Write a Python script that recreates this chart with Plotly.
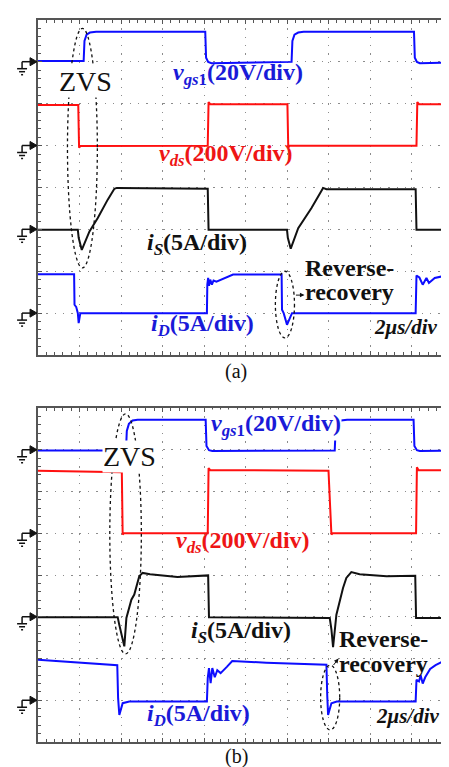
import plotly.graph_objects as go

# ---------------- data (x in divisions, 2 us/div ; y in screen divisions) ----------------
# Panel (a)
t_vgs_a = [0.00, 1.10, 1.12, 1.17, 1.25, 1.40, 4.03, 4.05, 4.10, 4.18, 6.11, 6.13, 6.18, 6.27, 6.40, 9.06, 9.08, 9.13, 9.20, 10.00]
v_vgs_a = [7.02, 7.02, 7.50, 7.65, 7.70, 7.72, 7.72, 7.10, 7.00, 6.97, 7.00, 7.50, 7.65, 7.70, 7.72, 7.72, 7.10, 7.00, 6.97, 6.98]

t_vds_a = [0.00, 0.97, 0.99, 1.02, 4.09, 4.11, 4.15, 6.01, 6.03, 6.06, 9.12, 9.14, 9.18, 10.00]
v_vds_a = [5.97, 5.97, 4.95, 4.99, 5.00, 6.04, 5.99, 5.99, 4.95, 5.00, 5.00, 6.04, 5.99, 5.99]

t_is_a = [0.00, 0.96, 0.98, 1.055, 1.24, 1.44, 1.68, 1.84, 1.90, 4.09, 4.11, 6.00, 6.02, 6.09, 6.27, 6.59, 6.87, 6.95, 9.10, 9.12, 10.00]
v_is_a = [2.99, 2.99, 2.80, 2.51, 2.95, 3.27, 3.71, 3.97, 3.99, 3.97, 2.99, 2.99, 2.80, 2.54, 3.03, 3.51, 3.99, 3.96, 3.96, 2.99, 2.99]

t_id_a = [0.00, 0.87, 0.88, 0.92, 0.96, 0.98, 1.02, 4.07, 4.08, 4.10, 4.12, 4.15, 4.19, 4.23, 4.30, 4.45, 4.70,
          5.87, 5.88, 5.92, 6.00, 6.12, 9.10, 9.12, 9.19, 9.27, 9.36, 9.42, 9.56, 9.75, 10.00]
v_id_a = [1.93, 1.93, 1.20, 1.15, 1.00, 0.76, 1.00, 1.00, 1.68, 1.84, 1.65, 1.80, 1.68, 1.78, 1.75, 1.82, 1.92,
          1.92, 1.08, 1.00, 0.72, 1.00, 1.00, 1.90, 1.85, 1.68, 1.84, 1.72, 1.84, 1.88, 1.93]

# Panel (b)
t_vgs_b = [0.00, 2.12, 2.14, 2.19, 2.28, 2.40, 4.04, 4.06, 4.12, 4.20, 7.15, 7.17, 7.22, 7.30, 7.45, 9.05, 9.07, 9.13, 9.20, 10.00]
v_vgs_b = [6.98, 6.98, 7.45, 7.62, 7.70, 7.72, 7.72, 7.09, 6.99, 6.97, 6.98, 7.45, 7.62, 7.70, 7.72, 7.72, 7.09, 6.99, 6.97, 6.98]

t_vds_b = [0.00, 2.02, 2.04, 2.07, 4.09, 4.11, 4.15, 7.00, 7.07, 7.10, 9.11, 9.13, 9.17, 10.00]
v_vds_b = [6.50, 6.46, 4.97, 5.00, 5.00, 6.56, 6.51, 6.50, 4.97, 5.00, 5.00, 6.58, 6.51, 6.51]

t_is_b = [0.00, 1.92, 1.96, 2.04, 2.08, 2.13, 2.20, 2.25, 2.32, 2.40, 2.44, 2.52, 2.70, 3.36, 4.10, 4.12,
          7.03, 7.07, 7.11, 7.19, 7.27, 7.35, 7.43, 7.55, 7.75, 8.40, 9.09, 9.11, 10.00]
v_is_b = [2.99, 2.99, 2.80, 2.50, 2.29, 2.97, 3.21, 3.41, 3.53, 3.81, 3.97, 4.05, 4.02, 3.95, 3.99, 2.99,
          2.97, 2.70, 2.27, 3.05, 3.37, 3.69, 3.93, 4.07, 4.02, 3.97, 3.98, 2.97, 2.97]

t_id_b = [0.00, 1.88, 1.91, 1.93, 1.96, 2.04, 2.20, 4.07, 4.09, 4.12, 4.16, 4.20, 4.26, 4.32, 4.40, 4.55, 4.68, 5.50,
          6.95, 6.97, 6.99, 7.07, 7.20, 9.10, 9.12, 9.18, 9.22, 9.27, 9.33, 9.45, 9.58, 9.72, 9.85, 10.00]
v_id_b = [1.97, 1.84, 1.84, 1.05, 0.65, 0.93, 0.97, 0.97, 1.53, 1.77, 1.41, 1.77, 1.55, 1.72, 1.65, 1.80, 1.94, 1.90,
          1.85, 1.10, 0.65, 0.93, 0.97, 0.97, 1.49, 1.45, 1.60, 1.40, 1.55, 1.75, 1.84, 1.91, 1.94, 1.90]

ground_levels = [7, 5, 3, 1]   # channel reference markers (divisions)

BLUE = "#0d0dff"
RED = "#ff1010"
BLACK = "#111111"
LBLUE = "#1a1ad8"
LRED = "#ee1515"
SERIF = "Liberation Serif"

# ---------------- figure ----------------
W, H = 449, 767
ML, MR, MT, MB = 30, 2, 12, 33
PW, PH = W - ML - MR, H - MT - MB
dom_a = [(734 - 347) / PH, 1.0]
dom_b = [0.0, (734 - 400) / PH]

fig = go.Figure()
panels = [
    ("x", "y", [(t_vgs_a, v_vgs_a, BLUE), (t_vds_a, v_vds_a, RED), (t_is_a, v_is_a, BLACK), (t_id_a, v_id_a, BLUE)]),
    ("x2", "y2", [(t_vgs_b, v_vgs_b, BLUE), (t_vds_b, v_vds_b, RED), (t_is_b, v_is_b, BLACK), (t_id_b, v_id_b, BLUE)]),
]
for xa, ya, series in panels:
    for t, v, c in series:
        fig.add_trace(go.Scatter(x=t, y=v, mode="lines", xaxis=xa, yaxis=ya,
                                 line=dict(color=c, width=2), hoverinfo="skip", showlegend=False))


def axis(domain=None, anchor=None, rng=None):
    d = dict(range=rng, showgrid=True, gridcolor="#8c8c8c", griddash="1.4px,6.94px", gridwidth=1,
             tick0=0, dtick=1, showline=True, linecolor="#555555", linewidth=1.5, mirror="ticks",
             ticks="inside", ticklen=4, tickcolor="#555555", tickwidth=1, showticklabels=False,
             zeroline=False, fixedrange=True,
             minor=dict(tick0=0, dtick=0.2, ticks="inside", ticklen=3, tickcolor="#555555", tickwidth=1, showgrid=False))
    if domain is not None:
        d["domain"] = domain
    if anchor is not None:
        d["anchor"] = anchor
    return d


fig.update_layout(
    width=W, height=H, margin=dict(l=ML, r=MR, t=MT, b=MB, pad=0),
    paper_bgcolor="white", plot_bgcolor="white", showlegend=False,
    font=dict(family=SERIF),
    xaxis=axis([0, 1], "y", [0, 10]), yaxis=axis(dom_a, "x", [0, 8]),
    xaxis2=axis([0, 1], "y2", [0, 10]), yaxis2=axis(dom_b, "x2", [0, 8]),
)

ann = []
DY = 0.15  # lift labels so glyphs sit where the reference has them


def label(xr, yr, x, y, text, color, size=24, bg=None, anchor="left", lift=DY):
    a = dict(xref=xr, yref=yr, x=x, y=y + lift, text=text, showarrow=False, xanchor=anchor, yanchor="middle",
             font=dict(family=SERIF, size=size, color=color), borderpad=0)
    if bg:
        a["bgcolor"] = bg
    ann.append(a)


VGS = "<b><i>v</i><sub><i>gs</i>1</sub>(20V/div)</b>"
VDS = "<b><i>v</i><sub><i>ds</i></sub>(200V/div)</b>"
IS = "<b><i>i</i><sub><i>S</i></sub>(5A/div)</b>"
ID = "<b><i>i</i><sub><i>D</i></sub>(5A/div)</b>"
TB = "<b><i>2μs/div</i></b>"

# panel (a)
label("x", "y", 1.15, 6.35, "ZVS", BLACK, 28, bg="white", anchor="center", lift=0.17)
label("x", "y", 3.24, 6.56, VGS, LBLUE)
label("x", "y", 2.90, 4.63, VDS, LRED)
label("x", "y", 2.60, 2.51, IS, BLACK)
label("x", "y", 2.70, 0.57, ID, LBLUE)
label("x", "y", 6.40, 1.87, "<b>Reverse-</b>", BLACK, 24, lift=0.2)
label("x", "y", 6.40, 1.31, "<b>recovery</b>", BLACK, 24, lift=0.2)
label("x", "y", 8.08, 0.52, TB, BLACK, 21)
# panel (b)
label("x2", "y2", 2.20, 6.68, "ZVS", BLACK, 28, bg="white", anchor="center", lift=0.17)
label("x2", "y2", 4.15, 7.45, VGS, LBLUE, bg="white")
label("x2", "y2", 3.30, 4.65, VDS, LRED)
label("x2", "y2", 3.66, 2.49, IS, BLACK)
label("x2", "y2", 2.60, 0.50, ID, LBLUE)
label("x2", "y2", 7.24, 2.30, "<b>Reverse-</b>", BLACK, 24, lift=0.17)
label("x2", "y2", 7.24, 1.70, "<b>recovery</b>", BLACK, 24, lift=0.17)
label("x2", "y2", 8.12, 0.48, TB, BLACK, 21)

# captions
label("paper", "paper", (229 - ML) / PW, (734 - 363) / PH, "(a)", BLACK, 20, anchor="center", lift=0)
label("paper", "paper", (229 - ML) / PW, (734 - 749) / PH, "(b)", BLACK, 20, anchor="center", lift=0)

# small arrows toward the reverse-recovery labels
ann.append(dict(xref="x", yref="y", x=6.42, y=1.43, ax=-10, ay=0, text="", showarrow=True,
                arrowhead=2, arrowsize=0.9, arrowwidth=1, arrowcolor=BLACK))
ann.append(dict(xref="x2", yref="y2", x=7.24, y=2.0, ax=-6, ay=8, text="", showarrow=True,
                arrowhead=2, arrowsize=0.9, arrowwidth=1, arrowcolor=BLACK))

shapes = []
# dotted ellipses
for xr, yr, x0, x1, y0, y1 in [("x", "y", 0.71, 1.43, 2.08, 7.80), ("x", "y", 5.72, 6.18, 0.41, 2.00),
                               ("x2", "y2", 1.73, 2.49, 2.11, 7.86), ("x2", "y2", 6.81, 7.27, 0.29, 1.84)]:
    shapes.append(dict(type="circle", xref=xr, yref=yr, x0=x0, x1=x1, y0=y0, y1=y1,
                       line=dict(color=BLACK, width=1.3, dash="dot"), layer="above"))


# ground reference markers, left of each panel
def px2paper(px, py):
    return (px - ML) / PW, (734 - py) / PH


for bottom_py, per_div in [(347, 41.9), (734, 41.75)]:
    for g in ground_levels:
        py = bottom_py - g * per_div
        segs = [((14, py), (24, py)), ((14, py), (14, py + 7)),
                ((9, py + 7), (19, py + 7)), ((11, py + 10), (17, py + 10)), ((13, py + 13), (15, py + 13))]
        for (ax0, ay0), (ax1, ay1) in segs:
            X0, Y0 = px2paper(ax0, ay0)
            X1, Y1 = px2paper(ax1, ay1)
            shapes.append(dict(type="line", xref="paper", yref="paper", x0=X0, y0=Y0, x1=X1, y1=Y1,
                               line=dict(color=BLACK, width=1.5)))
        pts = [px2paper(22, py - 4), px2paper(29, py), px2paper(22, py + 4)]
        path = "M{},{} L{},{} L{},{} Z".format(pts[0][0], pts[0][1], pts[1][0], pts[1][1], pts[2][0], pts[2][1])
        shapes.append(dict(type="path", xref="paper", yref="paper", path=path,
                           fillcolor=BLACK, line=dict(color=BLACK, width=1)))

fig.update_layout(annotations=ann, shapes=shapes)
fig.write_html("out.html")
